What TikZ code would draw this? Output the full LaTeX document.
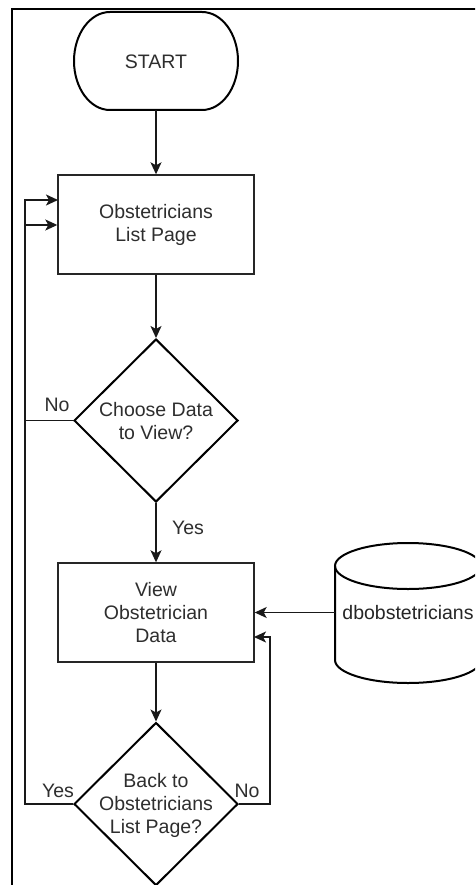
\documentclass[tikz,border=0pt]{standalone}
\usepackage{fontspec}
\setmainfont{Liberation Sans}
\usetikzlibrary{arrows.meta,shapes.geometric}
\begin{document}
\begin{tikzpicture}[x=1pt,y=-1pt,
  txt/.style={font=\fontsize{19.5}{23}\selectfont, text=black!82, align=center, inner sep=0pt},
  box/.style={draw=black!85, line width=1.4pt, minimum width=196, minimum height=99, inner sep=0pt},
  dia/.style={diamond, draw=black, line width=2pt, minimum width=164, minimum height=163, inner sep=0pt},
  conn/.style={draw=black!90, line width=1.4pt},
  arr/.style={conn, -{Stealth[length=12pt,width=11pt,inset=3pt]}},
  lbl/.style={font=\fontsize{19.5}{23}\selectfont, text=black!82, inner sep=0pt}]
\useasboundingbox (0,0) rectangle (475,885);
\clip (0,0) rectangle (475,885);
\fill[white] (0,0) rectangle (475,885);
% frame
\draw[line width=2pt] (12,886) -- (12,9) -- (476,9);
% START terminal
\node[minimum width=165, minimum height=98, inner sep=0pt] (start) at (156,61) {};
\draw[line width=2pt] (110,12) -- (202,12)
  arc[start angle=-90, end angle=90, x radius=36, y radius=49]
  -- (110,110)
  arc[start angle=90, end angle=270, x radius=36, y radius=49] -- cycle;
\node[txt] (starttxt) at (156,62) {START};
% boxes
\node[box] (b1) at (156,224.5) {};
\node[txt] (b1t) at (156,225) {Obstetricians\\List Page};
\node[box] (b2) at (156,612.5) {};
\node[txt] (b2t) at (156,613) {View\\Obstetrician\\Data};
% diamonds
\node[dia] (d1) at (156,420.5) {};
\node[txt] (d1t) at (156,421) {Choose Data\\to View?};
\node[dia] (d2) at (156,804) {};
\node[txt] (d2t) at (156,805) {Back to\\Obstetricians\\List Page?};
% database cylinder
\draw[line width=2pt] (408,566) ellipse[x radius=73, y radius=23];
\draw[line width=2pt] (335,566) -- (335,660)
  arc[start angle=180, end angle=0, x radius=73, y radius=23] -- (481,566);
\coordinate (dbL) at (335,612.5);
\node[txt, text=black!85] (dbt) at (408,613) {dbobstetricians};
% coordinates for loops
\coordinate (c1a) at (25,200);
\coordinate (c1b) at (25,225);
\coordinate (c2a) at (25,420.5);
\coordinate (c3a) at (25,804);
\coordinate (r1) at (270,804);
\coordinate (r2) at (270,637);
\coordinate (b1in1) at (58,200);
\coordinate (b2in2) at (254,637);
% connectors
\draw[arr] (start.south) -- (b1.north);
\draw[arr] (b1.south) -- (d1.north);
\draw[arr] (d1.south) -- (b2.north);
\draw[arr] (b2.south) -- (d2.north);
\draw[arr] (dbL) -- (b2.east);
\draw[arr] (d2.west) -- (c3a) -- (c1a) -- (b1in1);
\draw[arr] (d1.west) -- (c2a) -- (c1b) -- (b1.west |- c1b);
\draw[arr] (d2.east) -- (r1) -- (r2) -- (b2in2);
% labels
\node[lbl] (lno1) at (57,405) {No};
\node[lbl] (lyes1) at (188,528) {Yes};
\node[lbl] (lyes2) at (58,791) {Yes};
\node[lbl] (lno2) at (247,791) {No};
\end{tikzpicture}
\end{document}
